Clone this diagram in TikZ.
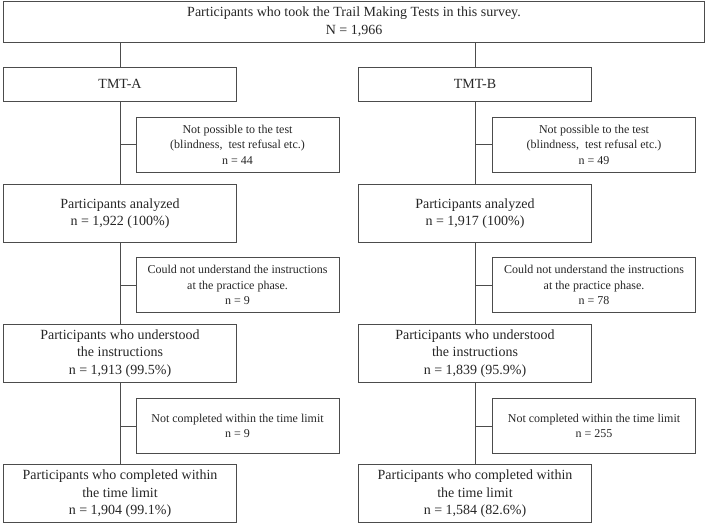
\documentclass[tikz,border=0pt]{standalone}
\usepackage{fontspec}
\setmainfont{Liberation Serif}
\usetikzlibrary{positioning,calc}

\begin{document}
\begin{tikzpicture}[x=1pt,y=-1pt,
  every node/.style={font=\fontsize{14}{17.5}\selectfont,text=black!85},
  box/.style={draw=black!70,line width=0.9pt,align=center,inner sep=2pt},
  main/.style={box,minimum width=233pt,minimum height=58pt},
  excl/.style={box,minimum width=203pt,minimum height=54.5pt,font=\fontsize{12}{15.2}\selectfont},
  link/.style={draw=black!70,line width=0.9pt}]
\useasboundingbox (0,0) rectangle (708,525);
\node[box,minimum width=701.5pt,minimum height=41.3pt] (top) at (354,21.7)
 {Participants who took the Trail Making Tests in this survey.\\N = 1,966};
% TMT-A column
\node[box,minimum width=233pt,minimum height=33.7pt] (tmta) at (120,84.2) {TMT-A};
\node[excl] (exa1) at (237.5,144.7) {Not possible to the test\\(blindness,\ \ test refusal\ etc.)\\n = 44};
\node[main] (anaa) at (120,213.5) {Participants analyzed\\n = 1,922 (100\%)};
\node[excl] (exa2) at (237.5,285) {Could not understand the instructions\\at the practice phase.\\n = 9};
\node[main] (unda) at (120,353.3) {Participants who understood\\the instructions\\n = 1,913\ (99.5\%)};
\node[excl] (exa3) at (237.5,426) {Not completed\ within\ the\ time\ limit\\n = 9};
\node[main] (fina) at (120,493.8) {Participants who completed within\\the time limit\\n = 1,904\ (99.1\%)};
% TMT-B column
\node[box,minimum width=233pt,minimum height=33.7pt] (tmtb) at (475,84.2) {TMT-B};
\node[excl] (exb1) at (594,144.7) {Not possible to the test\\(blindness,\ \ test refusal\ etc.)\\n = 49};
\node[main] (anab) at (475,213.5) {Participants analyzed\\n = 1,917 (100\%)};
\node[excl] (exb2) at (594,285) {Could not understand the instructions\\at the practice phase.\\n = 78};
\node[main] (undb) at (475,353.3) {Participants who understood\\the instructions\\n = 1,839\ (95.9\%)};
\node[excl] (exb3) at (594,426) {Not completed\ within\ the\ time\ limit\\n = 255};
\node[main] (finb) at (475,493.8) {Participants who completed within\\the time limit\\n = 1,584\ (82.6\%)};
% links
\draw[link] (tmta.north) -- (tmta.north |- top.south);
\draw[link] (tmtb.north) -- (tmtb.north |- top.south);
\draw[link] (tmta) -- (anaa) -- (unda) -- (fina);
\draw[link] (tmtb) -- (anab) -- (undb) -- (finb);
\draw[link] (exa1.west) -- (exa1.west -| tmta);
\draw[link] (exa2.west) -- (exa2.west -| anaa);
\draw[link] (exa3.west) -- (exa3.west -| unda);
\draw[link] (exb1.west) -- (exb1.west -| tmtb);
\draw[link] (exb2.west) -- (exb2.west -| anab);
\draw[link] (exb3.west) -- (exb3.west -| undb);
\end{tikzpicture}
\end{document}
